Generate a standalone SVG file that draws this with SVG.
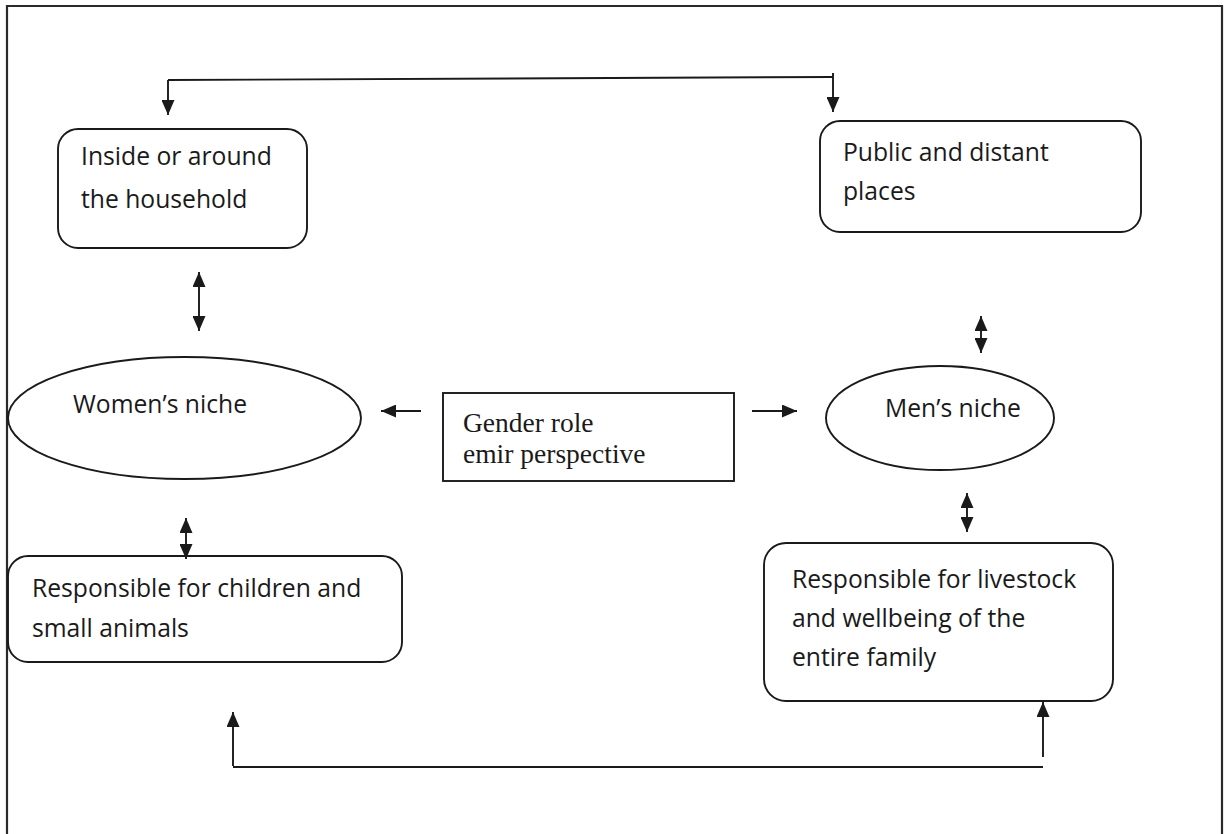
<svg xmlns="http://www.w3.org/2000/svg" width="1227" height="834" viewBox="0 0 1227 834">
<style>
.b{fill:#fff;stroke:#1a1a1a;stroke-width:1.9}
.t{font-family:"Open Sans","Noto Sans",sans-serif;font-size:24.7px;fill:#1a1a1a}
.s{font-family:"Liberation Serif","Times New Roman",serif;font-size:27.5px;fill:#1a1a1a}
.c{fill:none;stroke:#1a1a1a;stroke-width:1.9}
</style>
<defs>
<marker id="ah" viewBox="0 0 15 13" refX="15" refY="6.5" markerWidth="15" markerHeight="13" markerUnits="userSpaceOnUse" orient="auto-start-reverse">
<path d="M0,0 L15,6.5 L0,13 z" fill="#1a1a1a"/>
</marker>
</defs>
<rect width="1227" height="834" fill="#fff"/>
<path d="M7,840 V6 H1222 V840" fill="none" stroke="#2a2a2a" stroke-width="2.2"/>

<g id="n-household">
<rect class="b" x="58" y="129" width="249" height="119" rx="20"/>
<text class="t" x="81" y="165">Inside or around</text>
<text class="t" x="81" y="208">the household</text>
</g>
<g id="n-public">
<rect class="b" x="820" y="121" width="321" height="111" rx="20"/>
<text class="t" x="843" y="161">Public and distant</text>
<text class="t" x="843" y="200">places</text>
</g>
<g id="n-women">
<ellipse class="b" cx="184.5" cy="418" rx="176.5" ry="61"/>
<text class="t" x="73" y="413">Women’s niche</text>
</g>
<g id="n-gender">
<rect class="b" x="443" y="393" width="291" height="88"/>
<text class="s" x="463" y="432">Gender role</text>
<text class="s" x="463" y="463">emir perspective</text>
</g>
<g id="n-men">
<ellipse class="b" cx="940" cy="418" rx="114" ry="52"/>
<text class="t" x="885" y="417">Men’s niche</text>
</g>
<g id="n-children">
<rect class="b" x="8" y="556" width="394" height="106" rx="20"/>
<text class="t" x="32" y="597">Responsible for children and</text>
<text class="t" x="32" y="637">small animals</text>
</g>
<g id="n-livestock">
<rect class="b" x="764" y="543" width="349" height="158" rx="22"/>
<text class="t" x="792" y="588">Responsible for livestock</text>
<text class="t" x="792" y="627">and wellbeing of the</text>
<text class="t" x="792" y="666">entire family</text>
</g>

<g id="connectors">
<path class="c" d="M168,80 L833,77"/>
<path class="c" d="M168,80 V115" marker-end="url(#ah)"/>
<path class="c" d="M833,73 V112" marker-end="url(#ah)"/>
<path class="c" d="M199,272 V331" marker-start="url(#ah)" marker-end="url(#ah)"/>
<path class="c" d="M981,316 V353" marker-start="url(#ah)" marker-end="url(#ah)"/>
<path class="c" d="M421,411 H381" marker-end="url(#ah)"/>
<path class="c" d="M752,411 H797" marker-end="url(#ah)"/>
<path class="c" d="M186,518 V559" marker-start="url(#ah)" marker-end="url(#ah)"/>
<path class="c" d="M967,493 V532" marker-start="url(#ah)" marker-end="url(#ah)"/>
<path class="c" d="M233,767 H1043"/>
<path class="c" d="M233,766 V712" marker-end="url(#ah)"/>
<path class="c" d="M1043,757 V702" marker-end="url(#ah)"/>
</g>
</svg>
